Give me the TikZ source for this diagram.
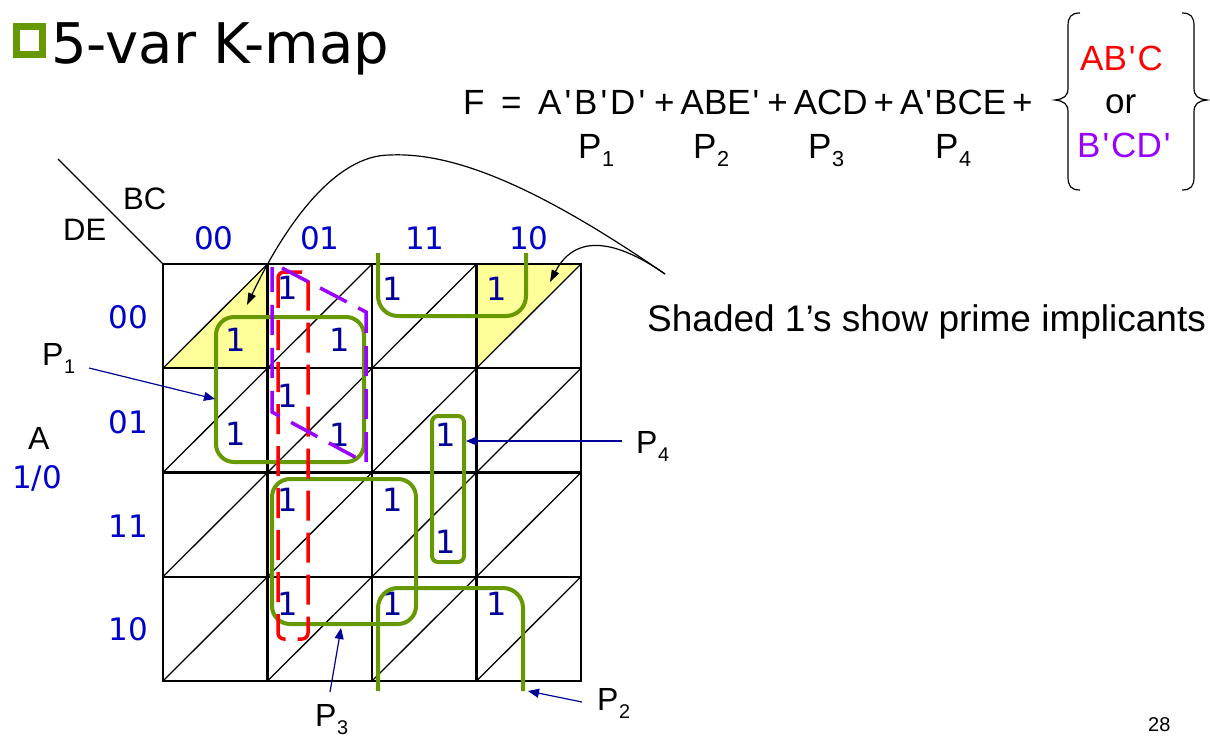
\documentclass[tikz,border=0pt]{standalone}
\usepackage{fontspec}
\setmainfont{Liberation Sans}[Ligatures=TeXOff]
\newfontfamily\dv{DejaVu Sans}
\usetikzlibrary{arrows.meta}
\definecolor{kgreen}{RGB}{102,153,0}
\definecolor{kred}{RGB}{255,0,0}
\definecolor{kpurple}{RGB}{153,0,255}
\definecolor{kone}{RGB}{0,0,153}
\definecolor{klab}{RGB}{0,0,204}
\definecolor{karrow}{RGB}{0,0,153}
\definecolor{kyellow}{RGB}{255,255,153}
\newcommand\ap{\kern2pt'\kern2pt}
\newcommand\apw{\kern3pt'\kern3pt}
\newcommand\pls{\kern6pt+\kern6pt}
\newcommand\Pn[1]{P\kern0.5pt\raisebox{-0.25em}{\scalebox{0.62}{#1}}}
\begin{document}
\begin{tikzpicture}[x=1pt,y=-1pt,
  txt/.style={inner sep=0pt,anchor=base west},
  eqt/.style={txt,font=\fontsize{35}{40}\selectfont},
  lbl/.style={inner sep=0pt,anchor=base,font=\dv\fontsize{31}{36}\selectfont,text=klab},
  rowlbl/.style={lbl,anchor=base east},
  one/.style={inner sep=0pt,font=\dv\fontsize{32}{36}\selectfont,text=kone},
  gridline/.style={line width=2.2pt,line cap=rect},
  diag/.style={line width=1.3pt},
  loopg/.style={draw=kgreen,line width=4pt},
  dashr/.style={draw=kred,line width=3.5pt,dash pattern=on 30pt off 12pt},
  dashp/.style={draw=kpurple,line width=3.5pt,dash pattern=on 30pt off 13pt},
  ptr/.style={draw=karrow,line width=1.2pt,-{Triangle[length=11pt,width=9pt]}},
  bptr/.style={draw=black,line width=1.2pt,-{Triangle[length=12pt,width=8pt]}},
  brc/.style={draw=black,line width=1.2pt}]
\useasboundingbox (0,0) rectangle (1210,736);
\fill[white] (0,0) rectangle (1210,736);

% title
\draw[kgreen,line width=7pt] (16,26) rectangle (42,54);
\node[txt,font=\dv\fontsize{56}{64}\selectfont] (title) at (51,63) {5-var K-map};

% equation
\node[eqt] (eF) at (463,114) {F};
\node[eqt] (eEq) at (501,114) {=};
\node[eqt] (terms) at (538,114) {A\apw B\apw D\apw\pls ABE\ap\pls ACD\pls A\ap BCE\pls};
\node[eqt] (s1) at (578,158) {\Pn{1}};
\node[eqt] (s2) at (693,158) {\Pn{2}};
\node[eqt] (s3) at (808,158) {\Pn{3}};
\node[eqt] (s4) at (935,158) {\Pn{4}};
\node[eqt,text=kred] (alt1) at (1080,70) {AB\ap C};
\node[eqt] (altor) at (1105,113) {or};
\node[eqt,text=kpurple] (alt2) at (1077,157) {B\ap CD\ap};
\draw[brc] (1080,13) .. controls (1071,13) and (1068,17) .. (1068,26) -- (1068,88)
  .. controls (1068,96) and (1064,99) .. (1055,100) .. controls (1064,101) and (1068,104) .. (1068,112)
  -- (1068,177) .. controls (1068,186) and (1071,190) .. (1080,190);
\draw[brc] (1182,13) .. controls (1191,13) and (1194,17) .. (1194,26) -- (1194,88)
  .. controls (1194,96) and (1198,99) .. (1207,100) .. controls (1198,101) and (1194,104) .. (1194,112)
  -- (1194,177) .. controls (1194,186) and (1191,190) .. (1182,190);

% yellow shading
\fill[kyellow] (163,368.25) -- (267.5,264) -- (267.5,368.25) -- cycle;
\fill[kyellow] (476.5,264) -- (581,264) -- (476.5,368.25) -- cycle;

% grid
\foreach \i in {0,...,3}{
  \foreach \j in {0,...,3}{
    \draw[diag] ({163+104.5*\i},{264+104.25*(\j+1)}) -- ({163+104.5*(\i+1)},{264+104.25*\j});
  }}
\foreach \i in {0,...,4}{
  \draw[gridline] ({163+104.5*\i},264) -- ({163+104.5*\i},681);
  \draw[gridline] (163,{264+104.25*\i}) -- (581,{264+104.25*\i});
}
\coordinate (corner) at (163,264);
\coordinate (hdr) at (58,159);
\draw[line width=1.3pt] (hdr) -- (corner);

% headers
\node[txt,font=\fontsize{31}{36}\selectfont] (bc) at (123,209) {BC};
\node[txt,font=\fontsize{31}{36}\selectfont] (de) at (63,240) {DE};
\node[lbl] (c0) at (214,249) {00};
\node[lbl] (c1) at (320,249) {01};
\node[lbl] (c2) at (425,249) {11};
\node[lbl] (c3) at (529,249) {10};
\node[rowlbl] (r0) at (148,328) {00};
\node[rowlbl] (r1) at (148,433) {01};
\node[rowlbl] (r2) at (148,537) {11};
\node[rowlbl] (r3) at (148,640) {10};
\node[txt,font=\fontsize{32}{36}\selectfont] (avar) at (28,449) {A};
\node[txt,font=\dv\fontsize{31}{36}\selectfont,text=klab] (aval) at (12,488) {1/0};

% ones
\node[one] (u01) at (288,288) {1};
\node[one] (u02) at (393,289) {1};
\node[one] (u03) at (497,289) {1};
\node[one] (u11) at (288,396) {1};
\node[one] (u21) at (288,500) {1};
\node[one] (u22) at (393,500) {1};
\node[one] (u31) at (288,604) {1};
\node[one] (u32) at (393,604) {1};
\node[one] (u33) at (497,604) {1};
\node[one] (l00) at (236,340) {1};
\node[one] (l01) at (340,340) {1};
\node[one] (l10) at (236,434) {1};
\node[one] (l11) at (340,435) {1};
\node[one] (l12) at (446,435) {1};
\node[one] (l22) at (446,542) {1};

% groups
\draw[loopg,rounded corners=18pt] (216,317) rectangle (364,462);
\draw[loopg,rounded corners=18pt] (272,479) rectangle (416,624);
\draw[loopg,rounded corners=6pt] (432,416) rectangle (464,562);
\draw[loopg,rounded corners=20pt] (378,253) -- (378,316) -- (526,316) -- (526,253);
\draw[loopg,rounded corners=20pt] (378,691) -- (378,588) -- (523,588) -- (523,691);
\draw[dashr,rounded corners=6pt] (278,272) rectangle (308,639);
\draw[dashp] (282,268) -- (366,312) -- (366,463) -- (272,412) -- (272,267);

% labels with pointers
\node[txt,font=\fontsize{32}{36}\selectfont] (lp1) at (42,365) {\Pn{1}};
\node[txt,font=\fontsize{32}{36}\selectfont] (lp4) at (636,453) {\Pn{4}};
\node[txt,font=\fontsize{32}{36}\selectfont] (lp2) at (597,710) {\Pn{2}};
\node[txt,font=\fontsize{32}{36}\selectfont] (lp3) at (315,726) {\Pn{3}};
\coordinate (a1s) at (89,368);  \coordinate (a1t) at (215,399);
\coordinate (a4s) at (622,441); \coordinate (a4t) at (466,441);
\coordinate (a3s) at (330,692); \coordinate (a3t) at (341,628);
\coordinate (a2s) at (582,702); \coordinate (a2t) at (528,691);
\draw[ptr] (a1s) -- (a1t);
\draw[ptr] (a4s) -- (a4t);
\draw[ptr] (a3s) -- (a3t);
\draw[ptr] (a2s) -- (a2t);

% shaded note
\node[txt,font=\fontsize{37}{42}\selectfont] (note) at (647,331) {Shaded 1’s show prime implicants};
\coordinate (cs) at (665,274);
\coordinate (peak) at (390,155);
\coordinate (tipA) at (247,305);
\coordinate (tipB) at (550,282);
\draw[bptr] (cs) .. controls (540,188) and (455,152) .. (peak) .. controls (335,155) and (285,225) .. (tipA);
\draw[bptr] (cs) .. controls (625,246) and (578,228) .. (tipB);

\node[txt,font=\fontsize{20}{24}\selectfont] (pg) at (1148,731) {28};
\end{tikzpicture}
\end{document}
